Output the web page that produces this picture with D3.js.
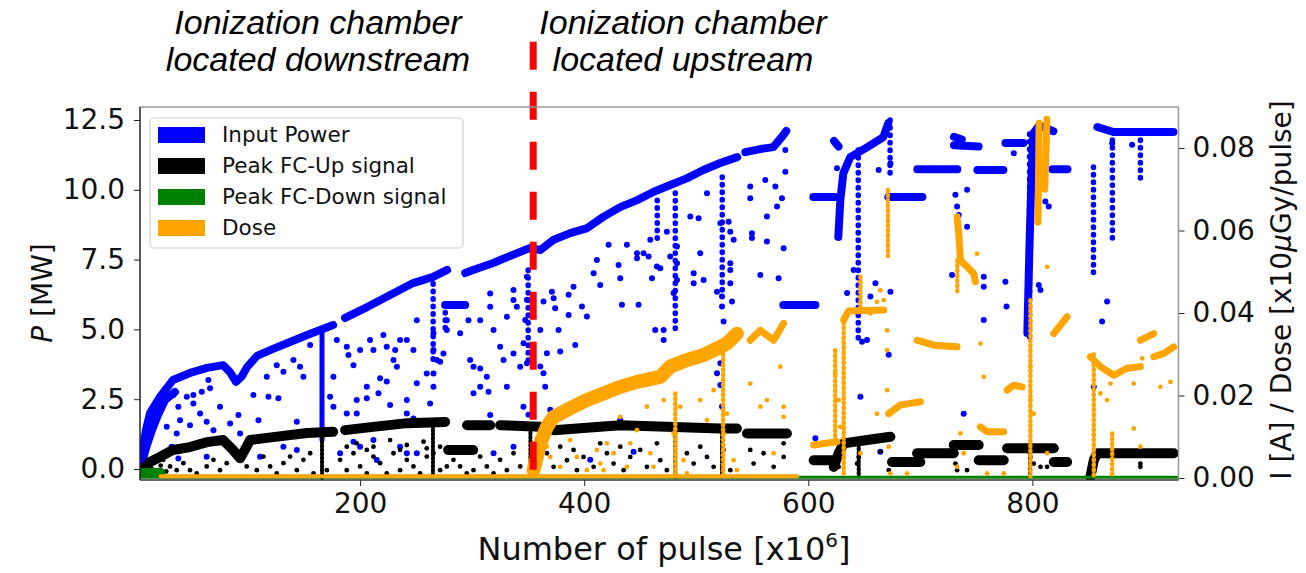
<!DOCTYPE html>
<html>
<head>
<meta charset="utf-8">
<script src="https://cdn.jsdelivr.net/npm/d3@7"></script>
<style>
  body { margin: 0; background: #fff; }
  text { font-family: "DejaVu Sans", sans-serif; }
</style>
</head>
<body>
<div id="chart"></div>
<script>
// ---- data (pulse in x10^6, power in MW, current / dose on right axis) ----
var pulseTicks = [200, 400, 600, 800];
var powerTicks = [0, 2.5, 5, 7.5, 10, 12.5];
var doseTicks = [0, 0.02, 0.04, 0.06, 0.08];
var markerPulse = 354.5;
var markerTop = 15.3;

var legendNames = ["Input Power", "Peak FC-Up signal", "Peak FC-Down signal", "Dose"];
var legendColors = ["#0000ff", "#000000", "#008000", "#ffa500"];

// dense runs of input power readings
var powerBands = [
  [[5.4,0.57],[8.9,1.40],[12.5,2.0],[21.4,2.58],[33,3.19],[48.2,3.44],[63.4,3.62],[77.7,3.72],[83.9,3.47],[89.3,3.12],[94.6,3.33],[99.1,3.65],[108,4.05],[122.3,4.30],[137.5,4.55],[152.7,4.80],[164.3,4.98],[175.9,5.16]],
  [[5.4,0.25],[9.8,0.86],[14.3,1.40],[19.6,1.93],[25.9,2.47],[34.8,2.76]],
  [[4.5,0.1],[7,0.6],[9,1.1],[11.5,1.6],[15,2.1]],
  [[186.6,5.41],[206.3,5.80],[226.8,6.23],[247.3,6.66],[265.2,6.88],[277.7,7.13]],
  [[275.9,5.87],[293.8,5.87]],
  [[293.8,7.02],[300.9,7.13],[318.8,7.38],[331.3,7.59],[351.8,7.92],[360.7,7.84],[372.3,8.20],[387.5,8.45],[402.7,8.63],[417,9.03],[432.1,9.38],[447.3,9.63],[461.6,9.92],[476.8,10.17],[492,10.42],[506.3,10.71],[521.4,10.96],[536.6,11.17]],
  [[543.8,11.35],[557.1,11.46],[568.8,11.53],[577.7,11.96],[580.4,12.11]],
  [[577.7,5.87],[606.3,5.87]],
  [[604.5,9.74],[624.1,9.74]],
  [[623,11.75],[627,11.55]],
  [[626.8,8.31],[628.6,9.63],[631.3,10.6],[637.5,11.17],[652.7,11.53],[667,11.89],[671.4,12.39]],
  [[671.4,9.74],[701.8,9.74]],
  [[697.3,10.74],[733,10.74]],
  [[730,11.9],[737,11.8]],
  [[730,11.6],[752,11.55]],
  [[750.9,10.71],[774.1,10.71]],
  [[775.9,11.68],[792,11.68]],
  [[795.5,4.87],[797.3,7.84],[799.1,10.35],[800.9,12.03],[806,12.3],[818.7,12.1]],
  [[817.9,10.74],[831.3,10.74]],
  [[858,12.25],[872.3,12.07],[925.9,12.07]]
];
// solid vertical drop and dotted vertical drops: [pulse, top, bottom]
var powerDrops = [[166,4.98,1.04]];
var powerStreaks = [[265.2,6.9,3.9],[276,5.87,4.8],[350,7.13,3.9],[481.3,9.89,4.87],[523.2,10.46,6.41],[465.2,9.63,8.2],[644.6,11.43,4.51],[797.5,12.0,4.7],[854.5,10.82,6.88],[871.4,11.78,8.09],[896.4,11.78,10.24],[673,12.5,10.5]];
var powerPoints = [
  [33.4,2.65],[37.8,2.23],[45.3,2.59],[51.2,2.65],[58.7,2.77],[64.6,3.19],[66.1,2.89],[51.2,2.35],[57.2,1.99],[39.3,1.75],[48.2,1.57],[63.1,1.69],[75.0,2.23],[84.0,1.63],[91.4,1.93],[92.9,1.27],[104.8,2.65],[109.3,1.75],[118.2,2.59],[116.7,3.30],[125.6,3.72],[127.1,2.53],[131.6,3.48],[140.5,3.90],[146.4,3.66],[149.4,3.30],[143.5,1.69],[152.4,1.33],[155.4,4.44],[131.6,0.80],[143.5,0.68],[110.7,0.44],[69.1,1.39],[72.0,1.04],[36.3,1.27],[31.9,0.80],[27.4,1.51],[37.8,0.38],[63.1,0.44],[107.8,1.04],
  [179.2,4.62],[188.1,4.38],[189.6,4.08],[200.0,4.26],[194.1,3.72],[208.9,4.62],[211.9,4.26],[220.8,4.80],[223.8,4.38],[231.3,4.26],[235.7,4.62],[241.7,4.62],[229.8,3.90],[232.8,3.66],[247.6,4.26],[265.5,4.86],[265.5,4.26],[268.5,3.90],[274.4,4.14],[259.5,3.42],[265.5,3.42],[271.4,3.84],[277.4,5.33],[277.4,4.98],[250.6,5.33],[217.9,3.25],[223.8,3.13],[250.6,3.07],[265.5,2.95],[206.0,2.95],[216.4,2.71],[226.8,2.29],[241.7,2.47],[262.5,2.35],[241.7,1.99],[247.6,1.81],[197.0,2.47],[206.0,2.53],[188.1,1.99],[197.0,1.99],[176.2,2.23],[176.2,3.30],[173.2,2.59],[182.2,0.56],[194.1,0.98],[200.0,0.80],[211.9,1.04],[235.7,0.80],[241.7,0.56],[250.6,0.56],[214.9,0.32],
  [289.3,4.86],[298.2,3.90],[301.2,3.66],[307.2,3.60],[313.1,3.30],[307.2,2.95],[314.6,2.77],[301.2,2.71],[328.0,3.90],[325.0,4.38],[336.9,4.14],[342.9,3.66],[331.0,2.95],[316.1,1.93],[319.1,0.56],[336.9,0.80],[345.8,2.23],[331.0,5.45],[339.9,5.81],[336.9,6.41],[336.9,6.05],[316.1,6.29],[316.1,5.81],[296.7,5.33],[307.2,5.33],[319.1,4.98],
  [348.9,6.89],[348.9,6.06],[347.4,5.34],[345.9,4.50],[348.9,3.79],[360.8,3.67],[363.7,3.43],[365.2,2.95],[366.7,4.15],[360.8,4.98],[363.7,6.00],[371.2,6.35],[372.7,6.12],[374.1,5.76],[390.5,6.53],[386.1,6.24],[386.1,5.52],[377.1,4.98],[378.6,4.21],[392.0,4.44],[398.0,5.82],[402.4,5.46],[408.4,7.01],[414.3,6.59],[411.3,7.49],[421.8,8.03],[430.7,7.31],[432.2,6.83],[433.7,5.88],[438.1,8.03],[447.1,7.73],[447.1,7.55],[448.5,5.88],[453.0,7.73],[457.5,7.61],[459.0,8.21],[460.5,6.83],[463.4,4.98],[470.9,4.98],[470.9,4.62],[464.9,7.25],[467.9,7.19],[473.8,8.50],[476.8,7.61],[482.8,7.97],[482.8,7.37],[482.8,6.77],[479.8,6.30],
  [497.7,7.01],[497.7,6.65],[503.6,7.73],[506.6,6.77],[494.7,9.04],[502.1,8.98],[509.6,9.88],[518.5,6.35],[523.0,6.18],[523.0,5.82],[530.4,7.37],[530.4,7.13],[530.4,6.65],[531.9,6.00],[524.4,5.28],[521.5,8.80],[528.9,8.86],[530.4,8.50],[533.4,8.21],[548.2,10.12],[548.2,9.70],[549.7,8.44],[549.7,8.27],[561.6,10.35],[563.1,9.04],[563.1,8.15],[557.2,6.95],[570.6,10.12],[572.1,9.40],[573.5,6.83],[576.5,9.70],[578.0,7.91],[579.5,11.43],[579.5,10.65],[521.5,3.79],[518.5,3.43],[521.5,3.01],[523.0,2.24],[369.7,2.12],[415.8,2.83],[444.1,0.62],[432.2,1.76],[405.4,0.33],[350.3,1.94],
  [625.6,10.77],[627.1,8.44],[640.5,7.13],[634.6,6.30],[659.9,6.65],[655.4,6.18],[673.3,6.35],[648.0,4.56],[652.4,4.62],[671.8,4.09],[646.5,2.59],[664.3,0.62],[673.3,10.95],[662.8,10.71],[731.3,9.82],[732.8,9.40],[741.7,10.00],[741.7,8.68],[734.3,9.10],[728.3,6.95],[756.6,6.89],[756.6,6.53],[756.6,5.34],[775.9,6.71],[776.9,5.82],[783.4,11.31],[811.6,9.58],[807.2,6.41],[805.7,6.59],[814.6,9.40],[738.7,1.98],[866.7,6.00],[862.2,5.28],[854.8,2.95],[871.2,11.67],[889.0,11.61],[606.3,1.10],[798.2,0.80]
];

// peak Faraday cup (upstream) current, right axis
var fcUpBands = [
  [[6.3,0.0019],[12.5,0.0039],[21.4,0.0051],[33.0,0.0068],[48.2,0.0075],[63.4,0.0087],[77.7,0.0092],[86.6,0.0068],[92.9,0.0048],[99.1,0.0078],[101.8,0.0092],[122.3,0.0099],[152.7,0.0109],[175.9,0.0112]],
  [[186.6,0.0116],[211.6,0.0124],[242.0,0.0133],[275.9,0.0136]],
  [[278.6,0.0068],[300.9,0.0068]],
  [[295.5,0.0128],[316.1,0.0128]],
  [[325.0,0.0128],[360.7,0.0124],[372.7,0.0116],[432.2,0.0128],[521.5,0.0120],[536.3,0.0120]],
  [[545.3,0.0108],[580.9,0.0108]],
  [[604.8,0.0043],[622.7,0.0043]],
  [[622.7,0.0027],[627.1,0.0060],[631.6,0.0084],[652.4,0.0092],[673.3,0.0100]],
  [[674.7,0.0039],[700.0,0.0039]],
  [[697.1,0.0060],[729.8,0.0060]],
  [[729.8,0.0080],[752.1,0.0080]],
  [[752.1,0.0043],[774.4,0.0043]],
  [[777.4,0.0072],[819.1,0.0072]],
  [[819.1,0.0039],[831.0,0.0039]],
  [[851.8,0.0003],[854.8,0.0043],[857.8,0.0060],[926.2,0.0060]]
];
var fcUpStreaks = [[166,0.0109,0.0],[265,0.0128,0.0011],[352,0.0120,0.0005],[481.3,0.0120,0.0003],[523,0.0120,0.0011],[645,0.0092,0.0003],[798,0.0072,0.0003]];
var fcUpPoints = [
  [24.4,0.0044],[30.4,0.0028],[36.3,0.0019],[42.3,0.0036],[48.2,0.0019],[54.2,0.0011],[63.1,0.0028],[69.1,0.0044],[75.0,0.0019],[81.0,0.0036],[89.9,0.0060],[92.9,0.0044],[98.8,0.0028],[107.8,0.0019],[113.7,0.0052],[119.7,0.0028],[125.6,0.0011],[131.6,0.0036],[137.5,0.0052],[143.5,0.0019],[149.4,0.0044],[158.4,0.0011],[155.4,0.0060],[170.3,0.0019],
  [182.2,0.0044],[188.1,0.0019],[194.1,0.0060],[200.0,0.0028],[206.0,0.0011],[211.9,0.0052],[217.9,0.0036],[223.8,0.0011],[229.8,0.0060],[235.7,0.0019],[241.7,0.0044],[247.6,0.0028],[253.6,0.0011],[259.5,0.0052],[265.5,0.0060],[271.4,0.0019],[277.4,0.0028],[283.3,0.0044],[289.3,0.0028],[295.2,0.0011],[301.2,0.0019],[307.2,0.0052],[313.1,0.0028],[319.1,0.0011],[325.0,0.0044],[331.0,0.0019],[336.9,0.0060],[342.9,0.0028],
  [197.0,0.0084],[211.9,0.0076],[226.8,0.0092],[241.7,0.0080],[256.6,0.0088],[271.4,0.0076],[206.0,0.0068],[235.7,0.0068],[259.5,0.0072],[188.1,0.0076],
  [363.7,0.0092],[366.7,0.0060],[372.7,0.0027],[378.6,0.0076],[384.6,0.0043],[390.5,0.0068],[393.5,0.0019],[399.4,0.0051],[408.4,0.0027],[414.3,0.0084],[420.3,0.0060],[426.2,0.0035],[432.2,0.0076],[435.2,0.0019],[441.1,0.0051],[450.0,0.0068],[456.0,0.0027],[464.9,0.0084],[467.9,0.0043],[473.8,0.0019],[491.7,0.0060],[497.7,0.0035],[503.6,0.0076],[509.6,0.0051],[515.5,0.0027],[524.4,0.0068],[530.4,0.0019],[548.2,0.0068],[551.2,0.0035],[560.1,0.0060],[569.1,0.0027],[578.0,0.0051],[578.0,0.0084],
  [627.1,0.0027],[643.5,0.0035],[645.0,0.0051],[664.3,0.0064],[671.8,0.0019],[731.3,0.0035],[732.8,0.0019],[741.7,0.0019],[798.2,0.0051],[801.2,0.0035],[807.2,0.0027],[813.1,0.0027],[896.4,0.0035],[896.4,0.0027],
  [8,0.0008],[14,0.0022],[18,0.0010],[22,0.0030],[27,0.0016]
];

// peak Faraday cup (downstream) current
var fcDownLine = [[4,0.0002],[930,0.0002]];
var fcDownBlob = [[5,0.0012],[22,0.0012]];

// dose per pulse
var doseRamp = [[354.8,0.0019],[360.8,0.0084],[366.7,0.0124],[372.7,0.0148],[387.5,0.0169],[402.4,0.0189],[417.3,0.0205],[432.2,0.0221],[447.1,0.0233],[467.9,0.0245],[476.8,0.0270],[491.7,0.0286],[506.6,0.0298],[515.5,0.0310],[527.4,0.0326],[536.3,0.0350]];
var doseFloor = [[22,0.0004],[590,0.0004]];
var doseBands = [
  [[548.2,0.0334],[557.2,0.0358],[569.1,0.0334],[578.0,0.0375]],
  [[604.8,0.0080],[625.6,0.0088]],
  [[631.6,0.0383],[636,0.0405],[667.3,0.0407]],
  [[671.8,0.0156],[682.2,0.0177],[691.1,0.0181],[700.0,0.0185]],
  [[697.1,0.0334],[712,0.0322],[732.8,0.0318]],
  [[732.8,0.0633],[734.3,0.0593],[735.8,0.0528],[741.7,0.0512],[747.6,0.0496],[749.1,0.0476]],
  [[753.6,0.0124],[759.6,0.0112],[774.4,0.0112]],
  [[777.4,0.0213],[783.4,0.0225],[790.8,0.0221]],
  [[805,0.062],[806,0.086]],
  [[811,0.070],[813,0.087]],
  [[819.1,0.0350],[831,0.0391]],
  [[851.8,0.0294],[860.7,0.0270],[872.6,0.0249],[884.5,0.0266],[896.4,0.0270]],
  [[896.4,0.0334],[908.3,0.0350]],
  [[908.3,0.0294],[917.3,0.0302],[926.2,0.0318]]
];
var doseStreaks = [[481.3,0.0205,0.0003],[524,0.030,0.0005],[631.6,0.039,0.0003],[646.5,0.0488,0.0415],[671,0.0698,0.053],[624,0.031,0.0084],[733,0.0528,0.0451],[798.2,0.0431,0.0003],[854.8,0.030,0.0003],[871.2,0.0108,0.0003]];
var dosePoints = [
  [360.8,0.0043],[366.7,0.0076],[369.7,0.0051],[378.6,0.0027],[387.5,0.0092],[393.5,0.0051],[402.4,0.0019],[411.3,0.0068],[414.3,0.0035],[420.3,0.0084],[417.3,0.0019],[426.2,0.0060],[432.2,0.0148],[438.1,0.0027],[441.1,0.0084],[447.1,0.0116],[456.0,0.0173],[459.0,0.0060],[461.9,0.0027],[470.9,0.0189],[479.8,0.0108],[485.7,0.0173],[488.7,0.0043],[491.7,0.0011],[503.6,0.0189],[509.6,0.0140],[515.5,0.0213],[524.4,0.0108],[527.4,0.0156],[533.4,0.0043],[536.3,0.0019],[548.2,0.0229],[557.2,0.0173],[563.1,0.0189],[569.1,0.0060],[578.0,0.0148],[578.0,0.0173],[575.0,0.0270],
  [628.6,0.0124],[627.1,0.0189],[624.1,0.0253],[646.5,0.0060],[661.3,0.0156],[670.3,0.0213],[671.8,0.0076],[673.3,0.0011],[670.3,0.0310],[670.3,0.0358],[667.3,0.0431],[661.3,0.0427],[655.4,0.0399],[664.3,0.0455],[688.1,0.0011],[732.8,0.0027],[735.8,0.0108],[738.7,0.0060],[750.6,0.0544],[753.6,0.0326],[756.6,0.0245],[759.6,0.0011],[774.4,0.0011],[798.2,0.0270],[798.2,0.0189],[801.2,0.0156],[813.1,0.0512],[813.1,0.0060],[869.7,0.0229],[890.5,0.0229],[898.0,0.0290],[890.5,0.0120],[896.4,0.0076],[923.2,0.0233],[914.3,0.0221],[860.7,0.0205],[866.7,0.0189]
];

// ---- layout ----
var svgWidth = 1306;
var svgHeight = 573;
var plot = { left: 140, right: 1178.5, top: 107, bottom: 480 };

var svg = d3.select("#chart")
    .append("svg")
    .attr("width", svgWidth)
    .attr("height", svgHeight);

var x = d3.scaleLinear().domain([3.57, 930.4]).range([plot.left, plot.right]);
var yL = d3.scaleLinear().domain([-0.394, 12.966]).range([plot.bottom, plot.top]);
var yR = d3.scaleLinear().domain([-0.000485, 0.08994]).range([plot.bottom, plot.top]);

svg.append("clipPath").attr("id", "clip")
  .append("rect")
    .attr("x", plot.left).attr("y", plot.top)
    .attr("width", plot.right - plot.left).attr("height", plot.bottom - plot.top);

var marks = svg.append("g").attr("clip-path", "url(#clip)");

function drawBands(bands, yScale, color, width) {
  var line = d3.line().x(d => x(d[0])).y(d => yScale(d[1]));
  marks.append("g").selectAll("path")
    .data(bands).enter().append("path")
    .attr("d", line)
    .attr("fill", "none")
    .attr("stroke", color)
    .attr("stroke-width", width)
    .attr("stroke-linecap", "round")
    .attr("stroke-linejoin", "round");
}
function drawStreaks(streaks, yScale, color, width, dash) {
  marks.append("g").selectAll("line")
    .data(streaks).enter().append("line")
    .attr("x1", d => x(d[0])).attr("x2", d => x(d[0]))
    .attr("y1", d => yScale(d[1])).attr("y2", d => yScale(d[2]))
    .attr("stroke", color)
    .attr("stroke-width", width)
    .attr("stroke-dasharray", dash)
    .attr("stroke-linecap", "round");
}
function drawPoints(points, yScale, color, r) {
  marks.append("g").selectAll("circle")
    .data(points).enter().append("circle")
    .attr("cx", d => x(d[0]))
    .attr("cy", d => yScale(d[1]))
    .attr("r", r)
    .style("fill", color);
}

// input power (left axis)
drawPoints(powerPoints, yL, "#0000ff", 3);
drawStreaks(powerDrops, yL, "#0000ff", 5, null);
drawStreaks(powerStreaks, yL, "#0000ff", 5.5, "0.5 7");
drawBands(powerBands, yL, "#0000ff", 8);

// FC-Up (right axis)
drawPoints(fcUpPoints, yR, "#000", 2.4);
drawStreaks(fcUpStreaks, yR, "#000", 4, "2 2");
drawBands(fcUpBands, yR, "#000", 10);

// FC-Down
drawBands([fcDownLine], yR, "#008000", 3);
drawBands([fcDownBlob], yR, "#008000", 10);

// dose
drawPoints(dosePoints, yR, "#ffa500", 2.4);
drawStreaks(doseStreaks, yR, "#ffa500", 4.5, "1 4");
drawBands([doseFloor], yR, "#ffa500", 4);
drawBands(doseBands, yR, "#ffa500", 7);
drawBands([doseRamp], yR, "#ffa500", 14);

// red marker where the ionization chamber moved
svg.append("line")
  .attr("x1", x(markerPulse)).attr("x2", x(markerPulse))
  .attr("y1", yL(markerTop)).attr("y2", yL(-0.394))
  .attr("stroke", "#ff0000")
  .attr("stroke-width", 7)
  .attr("stroke-dasharray", "28 22");

// ---- axes ----
var axisFont = 28;
var leftAxis = d3.axisLeft(yL).tickValues(powerTicks).tickFormat(d3.format(".1f")).tickSize(6).tickPadding(9);
var rightAxis = d3.axisRight(yR).tickValues(doseTicks).tickFormat(d3.format(".2f")).tickSize(6).tickPadding(8);
var bottomAxis = d3.axisBottom(x).tickValues(pulseTicks).tickSize(6).tickPadding(7);

var gl = svg.append("g").attr("transform", `translate(${plot.left},0)`).call(leftAxis);
var gr = svg.append("g").attr("transform", `translate(${plot.right},0)`).call(rightAxis);
var gb = svg.append("g").attr("transform", `translate(0,${plot.bottom})`).call(bottomAxis);
[gl, gr, gb].forEach(function(g) {
  g.select(".domain").remove();
  g.selectAll("text").attr("font-size", axisFont).attr("fill", "#111").style("font-family", "DejaVu Sans");
  g.selectAll("line").attr("stroke", "#222");
});

// frame
svg.append("line").attr("x1", plot.left).attr("x2", plot.right).attr("y1", plot.top).attr("y2", plot.top).attr("stroke", "#999").attr("stroke-width", 1.5);
svg.append("line").attr("x1", plot.right).attr("x2", plot.right).attr("y1", plot.top).attr("y2", plot.bottom).attr("stroke", "#999").attr("stroke-width", 1.5);
svg.append("line").attr("x1", plot.left).attr("x2", plot.left).attr("y1", plot.top).attr("y2", plot.bottom).attr("stroke", "#222").attr("stroke-width", 1.5);
svg.append("line").attr("x1", plot.left).attr("x2", plot.right).attr("y1", plot.bottom).attr("y2", plot.bottom).attr("stroke", "#333").attr("stroke-width", 1.5);

// axis labels
var xl = svg.append("text").attr("x", 664).attr("y", 560).attr("text-anchor", "middle").attr("font-size", 32).attr("fill", "#111");
xl.append("tspan").text("Number of pulse [x10");
xl.append("tspan").attr("font-size", 20).attr("dy", -13).text("6");
xl.append("tspan").attr("dy", 13).text("]");

var ylab = svg.append("text").attr("transform", "translate(52,293) rotate(-90)").attr("text-anchor", "middle").attr("font-size", 28).attr("fill", "#111");
ylab.append("tspan").attr("font-style", "italic").text("P");
ylab.append("tspan").text(" [MW]");

var yrlab = svg.append("text").attr("transform", "translate(1291,290) rotate(-90)").attr("text-anchor", "middle").attr("font-size", 28).attr("fill", "#111");
yrlab.append("tspan").text("I [A] / Dose [x10");
yrlab.append("tspan").attr("font-style", "italic").text("μ");
yrlab.append("tspan").text("Gy/pulse]");

// annotations above the plot
var notes = [
  { cx: 318, lines: ["Ionization chamber", "located downstream"] },
  { cx: 683, lines: ["Ionization chamber", "located upstream"] }
];
notes.forEach(function(n) {
  n.lines.forEach(function(t, i) {
    svg.append("text")
      .attr("x", n.cx).attr("y", 34 + i * 37)
      .attr("text-anchor", "middle")
      .attr("font-size", 34)
      .attr("font-style", "italic")
      .style("font-family", "'Liberation Sans', Arial, sans-serif")
      .attr("fill", "#000")
      .text(t);
  });
});

// legend
var lg = svg.append("g");
lg.append("rect").attr("x", 150).attr("y", 118).attr("width", 313).attr("height", 130)
  .attr("rx", 4).attr("fill", "#fff").attr("fill-opacity", 0.85).attr("stroke", "#d0d0d0").attr("stroke-width", 1.2);
legendNames.forEach(function(name, i) {
  var cy = 135 + i * 31;
  lg.append("rect").attr("x", 158).attr("y", cy - 8).attr("width", 47).attr("height", 16).attr("fill", legendColors[i]);
  lg.append("text").attr("x", 222).attr("y", cy + 7).attr("font-size", 21.5).attr("fill", "#111").text(name);
});
</script>
</body>
</html>
